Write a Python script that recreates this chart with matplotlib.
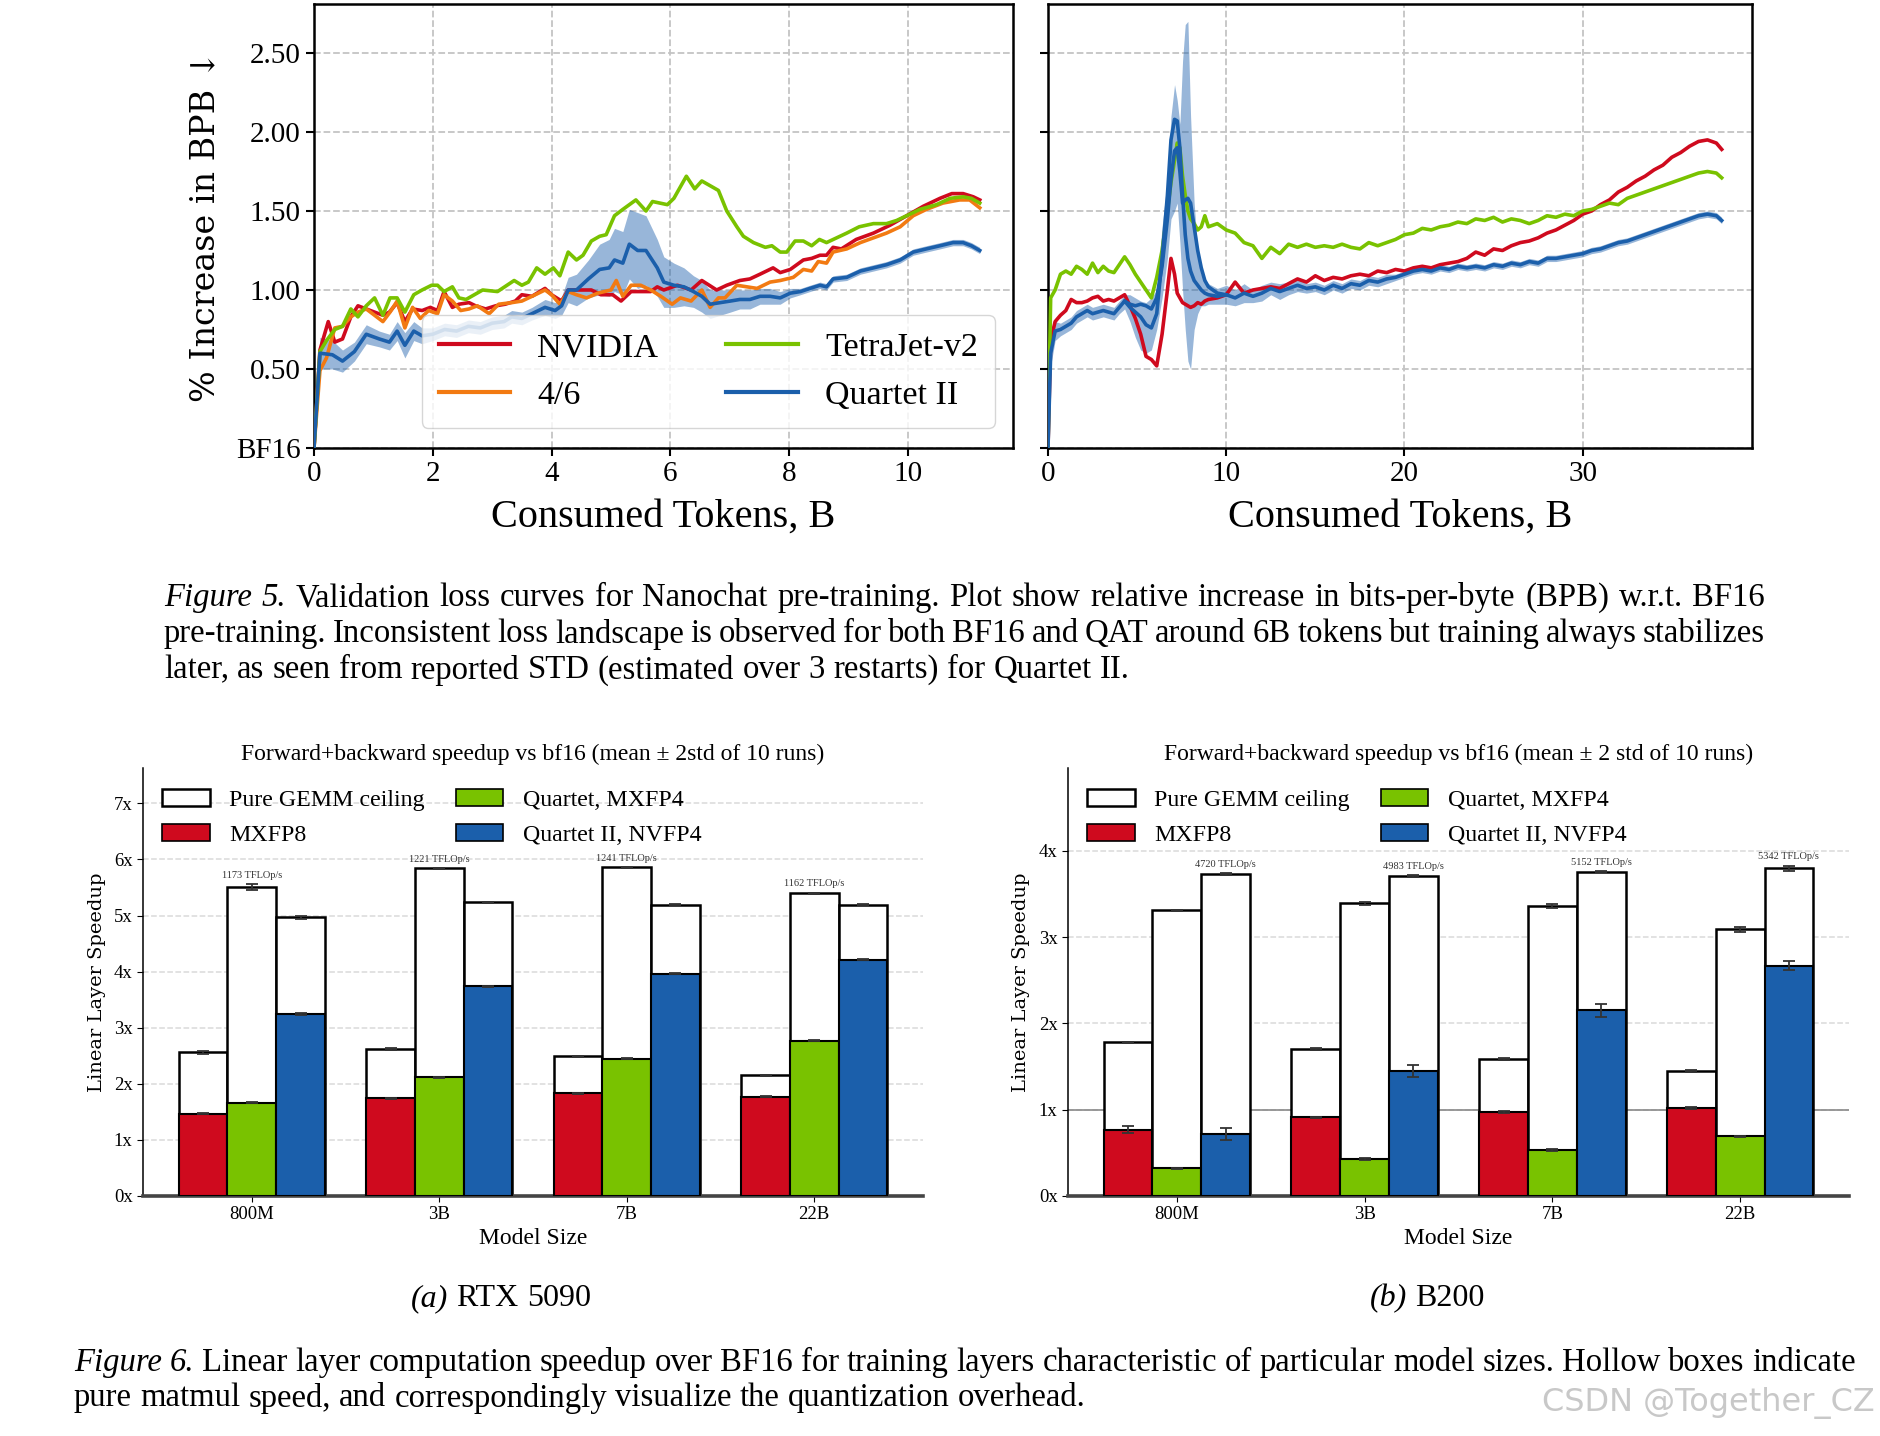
import numpy as np
import matplotlib
matplotlib.use("Agg")
import matplotlib.pyplot as plt
from matplotlib.patches import Patch
from matplotlib.ticker import FuncFormatter

plt.rcParams['font.family'] = ['Liberation Serif', 'DejaVu Serif']

W, H = 1880, 1436
RED = '#cf0a1e'
ORANGE = '#f27a12'
GREEN = '#79c200'
BLUE = '#1b5fab'

# ---------------- Figure 5 data (left: short run) ----------------
L_RED_X = [0, 0.1, 0.24, 0.35, 0.48, 0.62, 0.74, 0.88, 1.02, 1.16, 1.27, 1.4, 1.53, 1.66, 1.82, 1.96, 2.08, 2.19, 2.33, 2.44,
           2.61, 2.72, 2.89, 3.06, 3.22, 3.39, 3.5, 3.67, 3.89, 4.0, 4.17, 4.28, 4.5, 4.67, 4.83, 5.03, 5.17, 5.34, 5.67, 5.78,
           5.89, 6.12, 6.35, 6.53, 6.78, 6.95, 7.17, 7.34, 7.51, 7.73, 7.85, 8.02, 8.24, 8.38, 8.52, 8.63, 8.74, 8.88, 9.13, 9.42,
           9.7, 9.98, 10.26, 10.54, 10.74, 10.93, 11.1, 11.21]
L_RED_Y = [0, 0.62, 0.8, 0.67, 0.69, 0.83, 0.9, 0.88, 0.86, 0.84, 0.86, 0.92, 0.8, 0.88, 0.87, 0.89, 0.87, 0.99, 0.89, 0.91,
           0.92, 0.9, 0.88, 0.9, 0.91, 0.93, 0.97, 0.96, 1.01, 0.97, 0.93, 1.0, 1.0, 1.0, 0.97, 0.97, 0.93, 0.99, 0.99, 1.02,
           1.0, 1.03, 1.0, 1.06, 1.0, 1.03, 1.06, 1.07, 1.1, 1.14, 1.11, 1.13, 1.19, 1.2, 1.22, 1.22, 1.27, 1.26, 1.32, 1.36,
           1.41, 1.47, 1.53, 1.58, 1.61, 1.61, 1.59, 1.57]

L_ORANGE_X = [0, 0.1, 0.21, 0.35, 0.48, 0.62, 0.74, 0.88, 1.02, 1.16, 1.28, 1.4, 1.53, 1.66, 1.79, 1.93, 2.08, 2.19, 2.33, 2.47,
              2.61, 2.75, 2.95, 3.11, 3.33, 3.5, 3.67, 3.89, 4.0, 4.14, 4.28, 4.42, 4.59, 4.78, 5.0, 5.09, 5.2, 5.34, 5.5, 5.67,
              5.84, 6.03, 6.17, 6.35, 6.53, 6.67, 6.81, 6.92, 7.12, 7.29, 7.46, 7.68, 7.85, 8.07, 8.24, 8.38, 8.49, 8.63, 8.74, 8.97,
              9.2, 9.42, 9.64, 9.87, 10.09, 10.31, 10.59, 10.87, 11.04, 11.21]
L_ORANGE_Y = [0, 0.49, 0.57, 0.76, 0.77, 0.83, 0.86, 0.88, 0.84, 0.8, 0.86, 0.93, 0.76, 0.89, 0.82, 0.87, 0.85, 0.97, 0.93, 0.87,
              0.88, 0.9, 0.85, 0.91, 0.92, 0.93, 0.96, 1.0, 0.97, 0.91, 0.99, 0.97, 0.95, 0.98, 1.0, 1.06, 0.96, 1.03, 1.03, 1.0,
              0.96, 0.91, 0.95, 0.93, 1.0, 0.89, 0.95, 0.95, 1.03, 1.02, 1.01, 1.05, 1.06, 1.08, 1.13, 1.12, 1.18, 1.17, 1.24, 1.26,
              1.3, 1.33, 1.36, 1.4, 1.47, 1.51, 1.55, 1.57, 1.57, 1.52]

L_GREEN_X = [0, 0.1, 0.21, 0.35, 0.48, 0.62, 0.74, 0.88, 1.02, 1.16, 1.28, 1.4, 1.53, 1.68, 1.82, 1.98, 2.08, 2.19, 2.33, 2.44,
             2.56, 2.7, 2.84, 3.09, 3.37, 3.5, 3.61, 3.75, 3.89, 4.03, 4.14, 4.28, 4.42, 4.53, 4.67, 4.81, 4.92, 5.06, 5.2, 5.42,
             5.59, 5.7, 5.95, 6.06, 6.27, 6.41, 6.53, 6.81, 6.95, 7.12, 7.23, 7.4, 7.6, 7.71, 7.85, 7.96, 8.1, 8.24, 8.38, 8.51,
             8.63, 8.8, 8.97, 9.18, 9.42, 9.64, 9.81, 9.98, 10.2, 10.48, 10.71, 10.93, 11.07, 11.21]
L_GREEN_Y = [0, 0.61, 0.68, 0.75, 0.77, 0.88, 0.83, 0.9, 0.95, 0.84, 0.95, 0.95, 0.86, 0.97, 1.0, 1.03, 1.03, 0.99, 1.02, 0.95,
             0.94, 0.97, 1.0, 0.99, 1.06, 1.03, 1.05, 1.14, 1.1, 1.14, 1.09, 1.24, 1.19, 1.22, 1.31, 1.34, 1.35, 1.47, 1.51, 1.57,
             1.5, 1.56, 1.54, 1.58, 1.72, 1.64, 1.69, 1.63, 1.5, 1.4, 1.34, 1.3, 1.27, 1.28, 1.24, 1.24, 1.31, 1.31, 1.28, 1.32,
             1.3, 1.33, 1.36, 1.4, 1.42, 1.42, 1.44, 1.47, 1.51, 1.54, 1.58, 1.59, 1.58, 1.55]

L_BLUE_X = [0, 0.1, 0.31, 0.48, 0.68, 0.88, 1.1, 1.27, 1.4, 1.53, 1.68, 1.82, 2.0, 2.2, 2.4, 2.6, 2.8, 3.0, 3.2, 3.33,
            3.5, 3.67, 3.89, 4.06, 4.17, 4.28, 4.42, 4.62, 4.81, 4.97, 5.06, 5.2, 5.31, 5.45, 5.59, 5.78, 5.89, 6.06, 6.23, 6.39,
            6.53, 6.67, 6.84, 7.01, 7.17, 7.34, 7.51, 7.68, 7.85, 8.02, 8.19, 8.35, 8.52, 8.63, 8.74, 8.97, 9.2, 9.42, 9.64, 9.87,
            10.09, 10.31, 10.54, 10.76, 10.93, 11.07, 11.21]
L_BLUE_Y = [0, 0.6, 0.59, 0.55, 0.61, 0.72, 0.69, 0.67, 0.74, 0.65, 0.74, 0.71, 0.72, 0.75, 0.74, 0.77, 0.76, 0.79, 0.8, 0.83,
            0.82, 0.85, 0.89, 0.87, 0.9, 1.0, 1.0, 1.07, 1.13, 1.14, 1.19, 1.17, 1.29, 1.25, 1.25, 1.14, 1.05, 1.03, 1.02, 0.99,
            0.96, 0.91, 0.92, 0.93, 0.94, 0.94, 0.96, 0.96, 0.95, 0.98, 0.99, 1.01, 1.03, 1.02, 1.07, 1.08, 1.12, 1.14, 1.16, 1.19,
            1.24, 1.26, 1.28, 1.3, 1.3, 1.28, 1.25]
L_BLUE_STD = [0, 0.1, 0.09, 0.07, 0.06, 0.06, 0.05, 0.05, 0.06, 0.08, 0.06, 0.05, 0.04, 0.04, 0.04, 0.04, 0.04, 0.04, 0.04, 0.04,
              0.04, 0.04, 0.05, 0.05, 0.06, 0.08, 0.1, 0.12, 0.16, 0.18, 0.2, 0.2, 0.22, 0.24, 0.22, 0.18, 0.16, 0.14, 0.12, 0.1,
              0.1, 0.09, 0.08, 0.07, 0.06, 0.06, 0.05, 0.05, 0.04, 0.03, 0.02, 0.02, 0.02, 0.02, 0.02, 0.02, 0.02, 0.02, 0.02, 0.02,
              0.02, 0.02, 0.02, 0.02, 0.02, 0.02, 0.02]

# ---------------- Figure 5 data (right: long run) ----------------
R_X_EARLY = [0, 0.15, 0.4, 0.7, 1.0, 1.3, 1.6, 1.9, 2.2, 2.5, 2.8, 3.1, 3.4, 3.7, 4.0, 4.3, 4.6, 4.9, 5.2, 5.5,
             5.8, 6.1, 6.4, 6.7, 6.9, 7.1, 7.25, 7.4, 7.55, 7.7, 7.85, 8.0, 8.2, 8.4, 8.6, 8.8, 9.0]
R_GREEN_EARLY = [0, 0.95, 1.0, 1.1, 1.12, 1.1, 1.15, 1.13, 1.1, 1.17, 1.11, 1.15, 1.12, 1.11, 1.16, 1.21, 1.16, 1.1, 1.05, 1.0,
                 0.95, 1.08, 1.25, 1.5, 1.68, 1.82, 1.93, 1.9, 1.72, 1.6, 1.5, 1.45, 1.42, 1.38, 1.4, 1.47, 1.4]
R_RED_EARLY = [0, 0.68, 0.8, 0.84, 0.87, 0.94, 0.92, 0.92, 0.93, 0.95, 0.96, 0.93, 0.94, 0.93, 0.95, 0.97, 0.9, 0.82, 0.72, 0.58,
               0.56, 0.52, 0.72, 1.0, 1.2, 1.1, 0.98, 0.95, 0.92, 0.91, 0.9, 0.89, 0.9, 0.92, 0.91, 0.93, 0.94]
R_BLUE_EARLY = [0, 0.6, 0.74, 0.75, 0.77, 0.79, 0.83, 0.85, 0.87, 0.85, 0.86, 0.87, 0.86, 0.85, 0.89, 0.93, 0.89, 0.86, 0.83, 0.78,
                0.76, 0.85, 1.2, 1.6, 1.95, 2.08, 2.07, 1.9, 1.6, 1.35, 1.2, 1.12, 1.06, 1.03, 1.0, 0.98, 0.97]
R_BLUE_LO_EARLY = [0, 0.52, 0.68, 0.71, 0.73, 0.75, 0.79, 0.81, 0.83, 0.81, 0.82, 0.83, 0.82, 0.81, 0.85, 0.88, 0.8, 0.7, 0.62, 0.6,
                   0.62, 0.75, 0.95, 1.2, 1.45, 1.5, 1.55, 1.3, 1.0, 0.75, 0.55, 0.5, 0.75, 0.85, 0.9, 0.9, 0.91]
R_BLUE_HI_EARLY = [0, 0.68, 0.8, 0.79, 0.81, 0.83, 0.87, 0.89, 0.91, 0.89, 0.9, 0.91, 0.9, 0.89, 0.93, 0.97, 0.97, 0.95, 0.93, 0.92,
                   0.95, 1.0, 1.4, 1.7, 2.1, 2.3, 2.2, 2.05, 2.45, 2.68, 2.7, 2.1, 1.55, 1.25, 1.1, 1.05, 1.04]

R_X_LATE = [9.5, 10.0, 10.5, 11.0, 11.5, 12.0, 12.5, 13.0, 13.5, 14.0, 14.5, 15.0, 15.5, 16.0, 16.5, 17.0, 17.5, 18.0, 18.5, 19.0,
            19.5, 20.0, 20.5, 21.0, 21.5, 22.0, 22.5, 23.0, 23.5, 24.0, 24.5, 25.0, 25.5, 26.0, 26.5, 27.0, 27.5, 28.0, 28.5, 29.0,
            29.5, 30.0, 30.5, 31.0, 31.5, 32.0, 32.5, 33.0, 33.5, 34.0, 34.5, 35.0, 35.5, 36.0, 36.5, 37.0, 37.5, 37.8]
R_GREEN_LATE = [1.42, 1.38, 1.36, 1.3, 1.28, 1.2, 1.27, 1.23, 1.29, 1.27, 1.29, 1.27, 1.28, 1.27, 1.29, 1.27, 1.26, 1.3, 1.28, 1.3,
                1.32, 1.35, 1.36, 1.39, 1.38, 1.4, 1.41, 1.43, 1.42, 1.45, 1.44, 1.46, 1.43, 1.45, 1.44, 1.42, 1.44, 1.47, 1.46, 1.48,
                1.47, 1.5, 1.51, 1.53, 1.55, 1.54, 1.58, 1.6, 1.62, 1.64, 1.66, 1.68, 1.7, 1.72, 1.74, 1.75, 1.74, 1.71]
R_RED_LATE = [0.95, 0.97, 1.05, 0.98, 1.0, 1.01, 1.02, 1.01, 1.04, 1.07, 1.05, 1.09, 1.06, 1.08, 1.07, 1.09, 1.1, 1.09, 1.12, 1.11,
              1.13, 1.12, 1.14, 1.15, 1.14, 1.16, 1.17, 1.18, 1.2, 1.24, 1.22, 1.26, 1.25, 1.28, 1.3, 1.31, 1.33, 1.36, 1.38, 1.41,
              1.44, 1.48, 1.5, 1.54, 1.57, 1.62, 1.65, 1.69, 1.72, 1.76, 1.79, 1.84, 1.87, 1.91, 1.94, 1.95, 1.93, 1.89]
R_BLUE_LATE = [0.96, 0.97, 0.95, 0.98, 0.96, 0.98, 1.01, 0.99, 1.01, 1.03, 1.01, 1.02, 1.0, 1.03, 1.01, 1.04, 1.03, 1.06, 1.05, 1.07,
               1.08, 1.1, 1.12, 1.13, 1.12, 1.14, 1.13, 1.15, 1.14, 1.15, 1.14, 1.16, 1.15, 1.17, 1.16, 1.18, 1.17, 1.2, 1.2, 1.21,
               1.22, 1.23, 1.25, 1.26, 1.28, 1.3, 1.31, 1.33, 1.35, 1.37, 1.39, 1.41, 1.43, 1.45, 1.47, 1.48, 1.47, 1.44]
R_BLUE_STD_LATE = [0.05, 0.06, 0.05, 0.06, 0.04, 0.05, 0.04, 0.05, 0.04, 0.04, 0.03, 0.03, 0.03, 0.03, 0.03, 0.03, 0.03, 0.03, 0.03, 0.03,
                   0.02, 0.02, 0.02, 0.02, 0.02, 0.02, 0.02, 0.02, 0.02, 0.02, 0.02, 0.02, 0.02, 0.02, 0.02, 0.02, 0.02, 0.02, 0.02, 0.02,
                   0.02, 0.02, 0.02, 0.02, 0.02, 0.02, 0.02, 0.02, 0.02, 0.02, 0.02, 0.02, 0.02, 0.02, 0.02, 0.02, 0.02, 0.02]

# second Quartet II restart visible around the loss spike
R_BLUE2_X = [4.3, 4.6, 4.9, 5.2, 5.5, 5.8, 6.1, 6.4, 6.7, 6.9, 7.1, 7.25, 7.4, 7.55, 7.7, 7.85, 8.0, 8.2, 8.4, 8.6,
             8.8, 9.0, 9.5, 10.0]
R_BLUE2_Y = [0.93, 0.91, 0.9, 0.91, 0.9, 0.88, 0.95, 1.15, 1.45, 1.7, 1.88, 1.9, 1.75, 1.55, 1.57, 1.58, 1.55, 1.4, 1.25, 1.14,
             1.06, 1.02, 0.98, 0.97]

Y_TICKS = [0, 0.5, 1.0, 1.5, 2.0, 2.5]
Y_TICK_LABELS = ['BF16', '0.50', '1.00', '1.50', '2.00', '2.50']
SERIES_NAMES = ['NVIDIA', '4/6', 'TetraJet-v2', 'Quartet II']

# ---------------- Figure 6 data ----------------
SIZES = ['800M', '3B', '7B', '22B']
BAR_NAMES = ['Pure GEMM ceiling', 'MXFP8', 'Quartet, MXFP4', 'Quartet II, NVFP4']

# RTX 5090: [MXFP8, MXFP4, NVFP4]
RTX_FILL = [[1.47, 1.74, 1.83, 1.77], [1.66, 2.12, 2.45, 2.77], [3.24, 3.74, 3.96, 4.21]]
RTX_FILL_ERR = [[0.01, 0.01, 0.01, 0.01], [0.01, 0.01, 0.01, 0.01], [0.02, 0.01, 0.01, 0.01]]
RTX_GEMM = [[2.56, 2.62, 2.49, 2.15], [5.51, 5.84, 5.86, 5.40], [4.97, 5.24, 5.19, 5.19]]
RTX_GEMM_ERR = [[0.02, 0.01, 0.01, 0.01], [0.05, 0.01, 0.01, 0.01], [0.03, 0.01, 0.01, 0.01]]
RTX_NOTES = ['1173 TFLOp/s', '1221 TFLOp/s', '1241 TFLOp/s', '1162 TFLOp/s']

# B200
B200_FILL = [[0.77, 0.91, 0.97, 1.02], [0.32, 0.43, 0.53, 0.69], [0.72, 1.45, 2.15, 2.67]]
B200_FILL_ERR = [[0.04, 0.01, 0.01, 0.01], [0.01, 0.01, 0.01, 0.01], [0.07, 0.07, 0.08, 0.05]]
B200_GEMM = [[1.78, 1.70, 1.59, 1.45], [3.31, 3.39, 3.36, 3.09], [3.73, 3.71, 3.76, 3.80]]
B200_GEMM_ERR = [[0.01, 0.01, 0.01, 0.01], [0.01, 0.02, 0.02, 0.03], [0.01, 0.01, 0.01, 0.03]]
B200_NOTES = ['4720 TFLOp/s', '4983 TFLOp/s', '5152 TFLOp/s', '5342 TFLOp/s']

fig = plt.figure(figsize=(W / 100, H / 100), dpi=100)


def px_axes(left, top, right, bottom):
    return fig.add_axes([left / W, 1 - bottom / H, (right - left) / W, (bottom - top) / H])


def style_top(ax, xmax, xticks, show_labels):
    ax.set_xlim(0, xmax)
    ax.set_ylim(0, 2.81)
    ax.set_xticks(xticks)
    ax.set_yticks(Y_TICKS)
    if show_labels:
        ax.set_yticklabels(Y_TICK_LABELS)
    else:
        ax.set_yticklabels([])
    ax.grid(True, ls='--', color='#c4c4c4', lw=1.3)
    ax.set_axisbelow(True)
    for s in ax.spines.values():
        s.set_linewidth(1.8)
    ax.tick_params(direction='out', length=6, width=1.5, labelsize=21)
    ax.set_xlabel('Consumed Tokens, B', fontsize=29, labelpad=8)


# ---- Figure 5, left ----
axL = px_axes(314, 4, 1013, 448)
lb = np.array(L_BLUE_Y) - np.array(L_BLUE_STD)
ub = np.array(L_BLUE_Y) + np.array(L_BLUE_STD)
axL.fill_between(L_BLUE_X, lb, ub, color=BLUE, alpha=0.45, lw=0, zorder=2)
h1, = axL.plot(L_RED_X, L_RED_Y, color=RED, lw=2.6, zorder=3)
h2, = axL.plot(L_ORANGE_X, L_ORANGE_Y, color=ORANGE, lw=2.6, zorder=3)
h3, = axL.plot(L_GREEN_X, L_GREEN_Y, color=GREEN, lw=2.6, zorder=3)
h4, = axL.plot(L_BLUE_X, L_BLUE_Y, color=BLUE, lw=2.6, zorder=4)
style_top(axL, 11.77, [0, 2, 4, 6, 8, 10], True)
axL.set_ylabel('% Increase in BPB \u2193', fontsize=24, family='DejaVu Serif', labelpad=11)
leg = axL.legend([h1, h2, h3, h4], SERIES_NAMES, ncol=2, loc='lower right', bbox_to_anchor=(0.974, 0.045),
                 borderaxespad=0, fontsize=24.5, handlelength=2.1, handletextpad=0.8, columnspacing=2.0,
                 framealpha=0.8, edgecolor='#cccccc', borderpad=0.5)
for ln in leg.get_lines():
    ln.set_linewidth(3)

# ---- Figure 5, right ----
axR = px_axes(1048, 4, 1752, 448)
rx = R_X_EARLY + R_X_LATE
r_blue = R_BLUE_EARLY + R_BLUE_LATE
r_lo = R_BLUE_LO_EARLY + list(np.array(R_BLUE_LATE) - np.array(R_BLUE_STD_LATE))
r_hi = R_BLUE_HI_EARLY + list(np.array(R_BLUE_LATE) + np.array(R_BLUE_STD_LATE))
axR.fill_between(rx, r_lo, r_hi, color=BLUE, alpha=0.45, lw=0, zorder=2)
axR.plot(rx, R_RED_EARLY + R_RED_LATE, color=RED, lw=2.6, zorder=3)
axR.plot(rx, R_GREEN_EARLY + R_GREEN_LATE, color=GREEN, lw=2.6, zorder=3)
axR.plot(R_BLUE2_X, R_BLUE2_Y, color=BLUE, lw=2.6, zorder=4)
axR.plot(rx, r_blue, color=BLUE, lw=2.6, zorder=4)
style_top(axR, 39.5, [0, 10, 20, 30], False)


# ---- Figure 6 bars ----
def bar_panel(ax, fills, fill_err, gemm, gemm_err, notes, ymax, yticks, title, unit_line):
    x = np.arange(len(SIZES))
    w = 0.26
    colors = [RED, GREEN, BLUE]
    ekw = dict(fmt='none', ecolor='#333333', elinewidth=1.3, capsize=4, capthick=1.3)
    for k in range(3):
        pos = x + (k - 1) * w
        ax.bar(pos, gemm[k], w, color='white', edgecolor='black', lw=1.8, zorder=2)
        ax.errorbar(pos, gemm[k], yerr=gemm_err[k], zorder=5, **ekw)
        ax.bar(pos, fills[k], w, color=colors[k], edgecolor='black', lw=1.5, zorder=3)
        ax.errorbar(pos, fills[k], yerr=fill_err[k], zorder=5, **ekw)
    tops = np.array(gemm) + np.array(gemm_err)
    for i, note in enumerate(notes):
        k = int(np.argmax(np.array(gemm)[:, i]))
        ax.annotate(note, (x[i] + (k - 1) * w, tops[k][i]), xytext=(0, 3), textcoords='offset points',
                    ha='center', va='bottom', fontsize=7.5, color='#333333')
    if unit_line:
        ax.axhline(1, color='#8a8a8a', lw=1.2, zorder=1.5)
    ax.set_xlim(-0.58, 3.58)
    ax.set_ylim(0, ymax)
    ax.set_xticks(x)
    ax.set_xticklabels(SIZES)
    ax.set_yticks(yticks)
    ax.yaxis.set_major_formatter(FuncFormatter(lambda v, p: '%dx' % v))
    ax.yaxis.grid(True, ls='--', color='#dadada', lw=1.1)
    ax.set_axisbelow(True)
    ax.spines['top'].set_visible(False)
    ax.spines['right'].set_visible(False)
    ax.spines['left'].set_linewidth(1.1)
    ax.spines['bottom'].set_linewidth(2.6)
    ax.spines['bottom'].set_color('#444444')
    ax.tick_params(labelsize=13.5, length=4)
    ax.set_xlabel('Model Size', fontsize=17, labelpad=3)
    ax.set_ylabel('Linear Layer Speedup', fontsize=14, family='DejaVu Serif', labelpad=6)
    ax.set_title(title, fontsize=17, pad=6)
    handles = [Patch(facecolor='white', edgecolor='black', lw=1.8),
               Patch(facecolor=RED, edgecolor='black', lw=1.2),
               Patch(facecolor=GREEN, edgecolor='black', lw=1.2),
               Patch(facecolor=BLUE, edgecolor='black', lw=1.2)]
    ax.legend(handles, BAR_NAMES, ncol=2, loc='upper left', bbox_to_anchor=(0.0, 0.995), frameon=False,
              fontsize=17.2, handlelength=2.0, handleheight=0.7, columnspacing=1.3, labelspacing=0.55,
              borderaxespad=0.4)


axA = px_axes(143, 768, 923, 1196)
bar_panel(axA, RTX_FILL, RTX_FILL_ERR, RTX_GEMM, RTX_GEMM_ERR, RTX_NOTES, 7.63, range(8),
          'Forward+backward speedup vs bf16 (mean \u00b1 2std of 10 runs)', False)
axB = px_axes(1068, 768, 1849, 1196)
bar_panel(axB, B200_FILL, B200_FILL_ERR, B200_GEMM, B200_GEMM_ERR, B200_NOTES, 4.96, range(5),
          'Forward+backward speedup vs bf16 (mean \u00b1 2 std of 10 runs)', True)

# ---- captions ----
fig.canvas.draw()
renderer = fig.canvas.get_renderer()


def put_line(words, x0, y, size, x1=None, center=None):
    objs = []
    for txt, st in words:
        objs.append(fig.text(0, 0, txt, fontsize=size, style=st, va='center', ha='left'))
    widths = [t.get_window_extent(renderer).width for t in objs]
    space = size * 0.25 * 100 / 72
    if x1 is not None and len(objs) > 1:
        gap = max((x1 - x0 - sum(widths)) / (len(objs) - 1), 0.6 * space)
    else:
        gap = space
    if center is not None:
        x0 = center - (sum(widths) + gap * (len(objs) - 1)) / 2
    x = x0
    for t, w in zip(objs, widths):
        t.set_position((x / W, 1 - y / H))
        x += w + gap


def words_of(prefix, text):
    out = [(p, 'italic') for p in prefix.split()] if prefix else []
    return out + [(w, 'normal') for w in text.split()]


CAP = 23.6
put_line(words_of('Figure 5.', 'Validation loss curves for Nanochat pre-training. Plot show relative increase in '
                                'bits-per-byte (BPB) w.r.t. BF16'), 164, 598, CAP, x1=1765)
put_line(words_of('', 'pre-training. Inconsistent loss landscape is observed for both BF16 and QAT around 6B tokens '
                      'but training always stabilizes'), 164, 634, CAP, x1=1765)
put_line(words_of('', 'later, as seen from reported STD (estimated over 3 restarts) for Quartet II.'), 164, 670, CAP)

put_line(words_of('(a)', 'RTX 5090'), 0, 1299, 23, center=501)
put_line(words_of('(b)', 'B200'), 0, 1299, 23, center=1427)

put_line(words_of('Figure 6.', 'Linear layer computation speedup over BF16 for training layers characteristic of '
                                'particular model sizes. Hollow boxes indicate'), 74, 1363, CAP, x1=1856)
put_line(words_of('', 'pure matmul speed, and correspondingly visualize the quantization overhead.'), 74, 1398, CAP)

fig.text(1708 / W, 1 - 1403 / H, 'CSDN @Together_CZ', fontsize=23, family='DejaVu Sans', color='#c8c8c8',
         ha='center', va='center')

fig.savefig('out.png', dpi=100, facecolor='white')
